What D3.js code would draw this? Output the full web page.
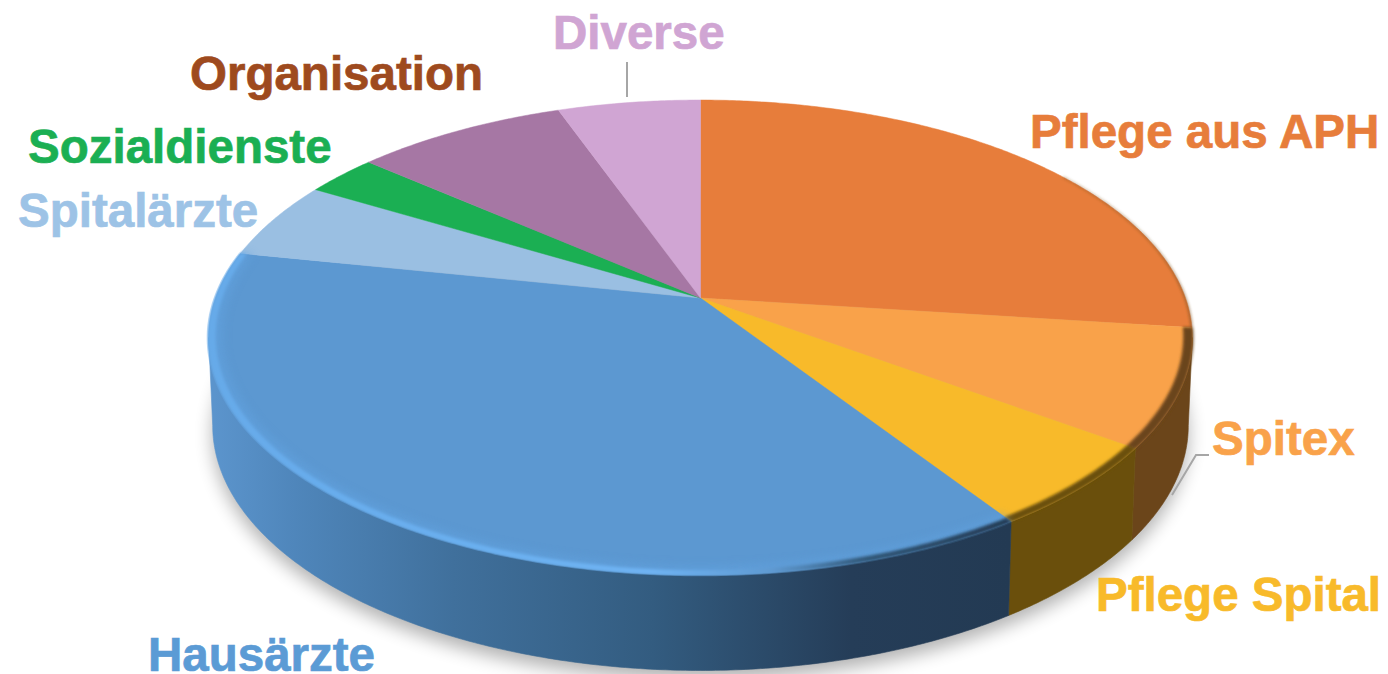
<!DOCTYPE html>
<html>
<head>
<meta charset="utf-8">
<script src="https://cdn.jsdelivr.net/npm/d3@7/dist/d3.min.js"></script>
<style>
html,body{margin:0;padding:0;background:#fff;overflow:hidden}
svg{display:block}
text{font-family:"Liberation Sans",Arial,sans-serif;font-weight:700;font-size:47.5px;stroke-width:.7px;paint-order:stroke}
</style>
</head>
<body>
<svg id="chart" width="1388" height="674"></svg>
<script>
// Data (shares in percent; clockwise from 12 o'clock)
const categories = ["Pflege aus APH","Spitex","Pflege Spital","Hausärzte","Spitalärzte","Sozialdienste","Organisation","Diverse"];
const values = [27.0,8.0,5.7,37.5,5.3,2.8,8.2,5.5];

// Style and layout
const faceColors = ["#e77d3b","#f9a24a","#f8ba2a","#5c98d1","#9abfe2","#1baf53","#a677a4","#d0a5d3"];
const textColors = ["#e77d3b","#f9a24a","#f8ba2a","#5b9bd5","#9dc3e6","#1baf53","#9e4a1e","#d0a5d3"];
const labelX = [1030,1212,1096,148,18,28,190,553];
const labelY = [148,455,611,671,227,163,90,49];
const sideStops = [
  [[0,"#6b451a"],[1,"#6b451a"]],
  [[0,"#6b451a"],[1,"#6b451a"]],
  [[0,"#6a4f0c"],[1,"#6a4f0c"]],
  [[0,"#5b94cc"],[.1,"#4f86bb"],[.3,"#40709c"],[.55,"#335c80"],[.8,"#253d58"],[1,"#233a53"]],
  [[0,"#777"],[1,"#777"]],[[0,"#777"],[1,"#777"]],[[0,"#777"],[1,"#777"]],[[0,"#777"],[1,"#777"]]
];

const svg = d3.select("#chart");
const defs = svg.append("defs");
[["b1",1.4],["b2",1.6],["b4",4],["b8",9]].forEach(([id,s])=>{
  defs.append("filter").attr("id",id).attr("x","-20%").attr("y","-20%").attr("width","140%").attr("height","140%")
    .append("feGaussianBlur").attr("stdDeviation",s);
});

// Perspective projection of a disc
const k = 0.1663;
const topDisc = {cx:700.5,cy:298,A:485,B:230.9};
const botDisc = {cx:700.5,cy:385,A:481,B:238};
function project(a,r,d){
  const x=r*Math.sin(a), y=r*Math.cos(a), w=1+k*y;
  return [d.cx+d.A*x/w, d.cy-d.B*y/w];
}
const STEP = Math.PI/360;
function arcPts(a0,a1,r,d){
  const n=Math.max(2,Math.ceil(Math.abs(a1-a0)/STEP));
  return d3.range(n+1).map(i=>project(a0+(a1-a0)*i/n,r,d));
}
const line = d3.line();
const closed = pts => line(pts)+"Z";

const pie = d3.pie().sort(null).value(d=>d);
const arcs = pie(values);

const frontMin = Math.acos(-k), frontMax = 2*Math.PI-Math.acos(-k);
const xScale = d3.scaleLinear().domain([0,1]).range([215,1010]);
const rad = d3.scaleLinear().domain([0,360]).range([0,2*Math.PI]);

// ground shadow
svg.append("path")
  .attr("d",closed(arcPts(0,2*Math.PI,1.0,{...botDisc,cy:botDisc.cy+9})))
  .attr("fill","#000").attr("opacity",.3).attr("filter","url(#b8)");

// side walls
arcs.forEach((s,i)=>{
  const g=defs.append("linearGradient").attr("id","side"+i).attr("gradientUnits","userSpaceOnUse")
    .attr("x1",xScale(0)).attr("x2",xScale(1)).attr("y1",0).attr("y2",0);
  sideStops[i].forEach(([o,c])=>g.append("stop").attr("offset",o).attr("stop-color",c));
  const a0=Math.max(s.startAngle,frontMin), a1=Math.min(s.endAngle,frontMax);
  if(a1<=a0) return;
  const pts=arcPts(a0,a1,1,topDisc).concat(arcPts(a1,a0,1,botDisc));
  svg.append("path").attr("d",closed(pts)).attr("fill",`url(#side${i})`)
    .attr("stroke",`url(#side${i})`).attr("stroke-width",.6);
});

// top faces
arcs.forEach((s,i)=>{
  const pts=[project(0,0,topDisc)].concat(arcPts(s.startAngle,s.endAngle,1,topDisc));
  svg.append("path").attr("d",closed(pts)).attr("fill",faceColors[i]).attr("stroke",faceColors[i]).attr("stroke-width",.5);
});

// soft rounded edge: wall colour creeping over the rim of the right-hand slices
const band=(a0,a1,r0,r1)=>closed(arcPts(a0,a1,r0,topDisc).concat(arcPts(a1,a0,r1,topDisc)));
const edge = svg.append("g").attr("filter","url(#b1)");
edge.append("path").attr("d",band(rad(55),arcs[0].endAngle,1.001,.998)).attr("fill","#7a4f22");
edge.append("path").attr("d",band(arcs[1].startAngle,arcs[1].endAngle,1.002,.982)).attr("fill","#6b451a");
edge.append("path").attr("d",band(arcs[2].startAngle,arcs[2].endAngle,1.002,.982)).attr("fill","#6a4f0c");

// bevel highlight on the large blue slice
const bev=defs.append("linearGradient").attr("id","bevel").attr("gradientUnits","userSpaceOnUse")
  .attr("x1",xScale(0)).attr("x2",xScale(1)).attr("y1",0).attr("y2",0);
[[0,"#66aae9"],[.2,"#69aeee"],[.55,"#6fb4f4"],[.7,"#5f9ad2"],[.82,"#2f5575"],[1,"#233a53"]]
  .forEach(([o,c])=>bev.append("stop").attr("offset",o).attr("stop-color",c));
const haus=arcs[3];
defs.append("clipPath").attr("id","faceClip").append("path").attr("d",closed(arcPts(0,2*Math.PI,1.004,topDisc)));
const bevelG=svg.append("g").attr("clip-path","url(#faceClip)");
bevelG.append("path").attr("d",band(haus.startAngle,haus.endAngle,1,.972))
  .attr("fill","#62a3e0").attr("opacity",.55).attr("filter","url(#b4)");
bevelG.append("path").attr("d",band(haus.startAngle,haus.endAngle,1.002,.986))
  .attr("fill","url(#bevel)").attr("filter","url(#b2)");

// leader lines
const leader=d3.line();
svg.append("path").attr("d",leader([[627,62],[627,97]])).attr("fill","none").attr("stroke","#a6a6a6").attr("stroke-width",2);
svg.append("path").attr("d",leader([[1209,455],[1196,455],[1172,495]])).attr("fill","none").attr("stroke","#a6a6a6").attr("stroke-width",2);

// labels
svg.selectAll("text.lbl").data(categories).enter().append("text").attr("class","lbl")
  .attr("x",(d,i)=>labelX[i]).attr("y",(d,i)=>labelY[i]).attr("fill",(d,i)=>textColors[i]).attr("stroke",(d,i)=>textColors[i]).text(d=>d);
</script>
</body>
</html>
